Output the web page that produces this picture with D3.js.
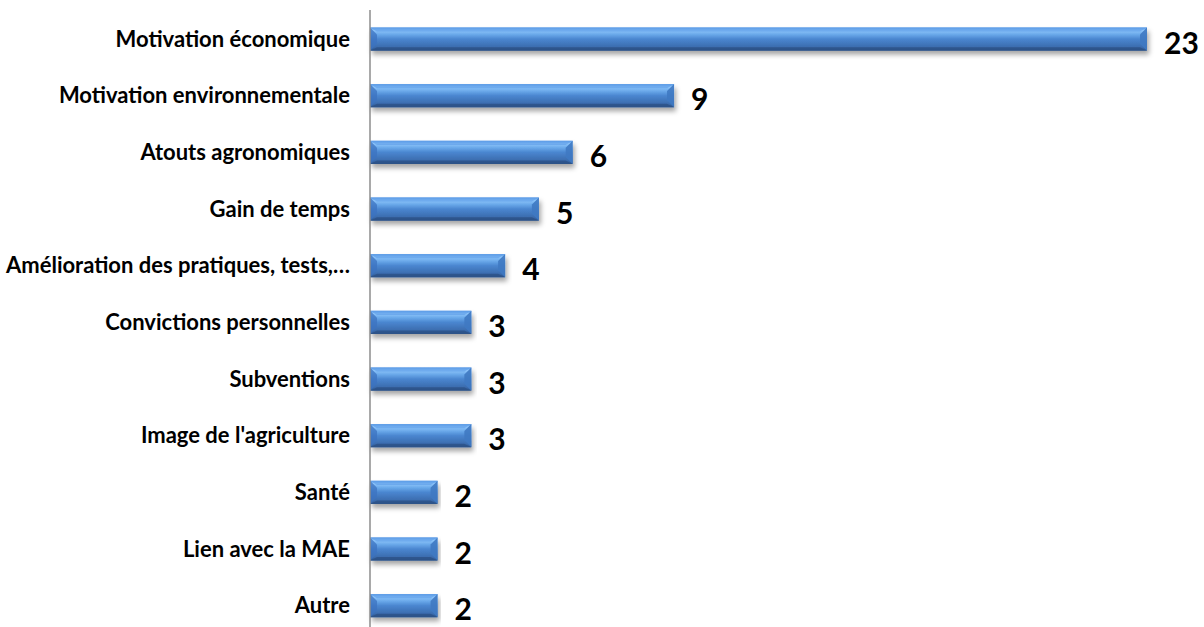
<!DOCTYPE html>
<html><head><meta charset="utf-8">
<script src="https://cdn.jsdelivr.net/npm/d3@7"></script>
<style>body{margin:0;background:#fff}svg{display:block}</style>
</head><body>
<svg id="c" width="1204" height="627"></svg>
<script>
const categories = ["Motivation économique","Motivation environnementale","Atouts agronomiques","Gain de temps","Amélioration des pratiques, tests,…","Convictions personnelles","Subventions","Image de l'agriculture","Santé","Lien avec la MAE","Autre"];
const values = [23,9,6,5,4,3,3,3,2,2,2];

const svg = d3.select("#c");
const x0 = 370;
const x = d3.scaleLinear().domain([0,23]).range([x0,1147]);
const y = d3.scaleBand().domain(categories).range([10.7,634]).paddingInner(0.59).paddingOuter(0.295);

const defs = svg.append("defs");
const g = defs.append("linearGradient").attr("id","bg").attr("x1",0).attr("y1",0).attr("x2",0).attr("y2",1);
[[0,"#5a9be8"],[0.12,"#8fc6fb"],[0.3,"#6aa9ea"],[0.5,"#4a86d0"],[0.85,"#3b6cae"],[1,"#2f5a94"]].forEach(([o,c])=>g.append("stop").attr("offset",o).attr("stop-color",c));
const f = defs.append("filter").attr("id","sh").attr("x","-5%").attr("y","-30%").attr("width","110%").attr("height","180%");
f.append("feDropShadow").attr("dx",2).attr("dy",4).attr("stdDeviation",2.5).attr("flood-color","#000").attr("flood-opacity",0.35);

const bars = svg.append("g");
categories.forEach((c,i)=>{
  const yt = y(c), h = y.bandwidth(), xl = x(0), xr = x(values[i]);
  const b = Math.min(7, h/3);
  const gg = bars.append("g");
  gg.append("rect").attr("x",xl).attr("y",yt).attr("width",xr-xl).attr("height",h).attr("fill","url(#bg)").attr("filter","url(#sh)");
  gg.append("path").attr("d",`M${xl},${yt}L${xl+b},${yt+b}L${xl+b},${yt+h-b}L${xl},${yt+h}Z`).attr("fill","#3c73c0").attr("opacity",0.75);
  gg.append("path").attr("d",`M${xr},${yt}L${xr-b},${yt+b}L${xr-b},${yt+h-b}L${xr},${yt+h}Z`).attr("fill","#3f79c2").attr("opacity",0.9);
  gg.append("path").attr("d",`M${xl},${yt}L${xr},${yt}L${xr-b},${yt+b*0.6}L${xl+b},${yt+b*0.6}Z`).attr("fill","#5b9be6").attr("opacity",0.6);
  gg.append("path").attr("d",`M${xl},${yt+h}L${xr},${yt+h}L${xr-b},${yt+h-b*0.5}L${xl+b},${yt+h-b*0.5}Z`).attr("fill","#2b4f82").attr("opacity",0.7);
});

svg.append("line").attr("x1",x0).attr("x2",x0).attr("y1",10).attr("y2",627).attr("stroke","#8c8c8c").attr("stroke-width",1.5);

svg.append("g").selectAll("text").data(categories).join("text")
  .attr("x",350).attr("y",d=>y(d)+y.bandwidth()/2).attr("dy","0.35em")
  .attr("text-anchor","end").attr("font-family","Lato, 'Open Sans', sans-serif").attr("font-weight","bold").attr("font-size",22).attr("fill","#000")
  .text(d=>d);

svg.append("g").selectAll("text").data(values).join("text")
  .attr("x",d=>x(d)+17).attr("y",(d,i)=>y(categories[i])+y.bandwidth()/2+4).attr("dy","0.35em")
  .attr("font-family","Lato, 'Open Sans', sans-serif").attr("font-weight","bold").attr("font-size",30).attr("fill","#000")
  .text(d=>d);
</script>
</body></html>
